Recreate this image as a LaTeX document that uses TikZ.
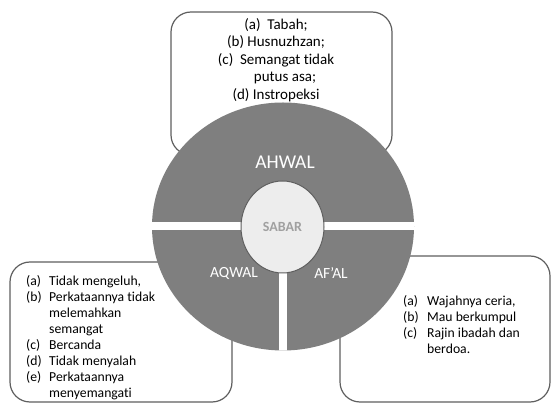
\documentclass[tikz,border=0pt]{standalone}
\usepackage{fontspec}
\setmainfont{Carlito}[Ligatures=NoCommon]
\usetikzlibrary{shapes.geometric, positioning}

\definecolor{ringgray}{HTML}{7F7F7F}
\definecolor{linegray}{HTML}{5F5F5F}
\definecolor{coregray}{HTML}{EDEDED}
\definecolor{coretext}{HTML}{A0A0A0}

\begin{document}
\begin{tikzpicture}[
    x=1pt, y=-1pt,
    infobox/.style={rectangle, draw=linegray, line width=1.2pt, fill=white, rounded corners=20pt},
    ring/.style={ellipse, fill=ringgray, minimum width=262, minimum height=248, inner sep=0pt},
    core/.style={ellipse, draw=linegray, line width=1pt, fill=coregray, minimum width=83, minimum height=92, inner sep=0pt},
    ringlabel/.style={text=white, font=\fontsize{15.5}{18}\selectfont},
    listtext/.style={anchor=west, inner sep=0pt, font=\fontsize{13.7}{16}\selectfont, align=left},
    gap/.style={white, line width=8pt}
]
\useasboundingbox (0,0) rectangle (552,403);

% Boxes behind the circle
\node[infobox, minimum width=221, minimum height=143] (ahwalbox) at (281.5,83.5) {};
\node[infobox, minimum width=222, minimum height=140] (aqwalbox) at (121,332) {};
\node[infobox, minimum width=210, minimum height=146] (afalbox) at (445,329) {};

% Box texts
\node[inner sep=0pt, align=center, font=\fontsize{15}{17.5}\selectfont] (ahwallist) at (276,60)
  {(a)\ \ Tabah;\\ (b) Husnuzhzan;\\ (c)\ \ Semangat tidak\\ \hspace*{1.2em}putus asa;\\ (d) Instropeksi};
\node[listtext] (aqwallist) at (26,338.5) {%
  \begin{tabular}{@{}p{23pt}@{}l@{}}
  (a) & Tidak mengeluh,\\
  (b) & Perkataannya tidak\\
      & melemahkan\\
      & semangat\\
  (c) & Bercanda\\
  (d) & Tidak menyalah\\
  (e) & Perkataannya\\
      & menyemangati
  \end{tabular}};
\node[listtext] (afallist) at (403,326) {%
  \begin{tabular}{@{}p{24pt}@{}l@{}}
  (a) & Wajahnya ceria,\\
  (b) & Mau berkumpul\\
  (c) & Rajin ibadah dan\\
      & berdoa.
  \end{tabular}};

% Circle with its white gaps
\node[ring] (ring) at (283,226.5) {};
\begin{scope}
  \clip (ring.center) ellipse [x radius=131, y radius=124];
  \draw[gap] (ring.west) -- (ring.east);
  \draw[gap] (ring.center) -- (ring.south);
\end{scope}

% Centre
\node[core] (sabar) at (282.5,227) {};
\node[text=coretext, font=\fontsize{14}{16}\selectfont\bfseries] at (sabar.center) {SABAR};

% Labels
\node[ringlabel, font=\fontsize{19.5}{22}\selectfont] (ahwal) at (285,162.5) {AHWAL};
\node[ringlabel] (aqwal) at (234,273) {AQWAL};
\node[ringlabel] (afal) at (331,273) {AF’AL};

\end{tikzpicture}
\end{document}
